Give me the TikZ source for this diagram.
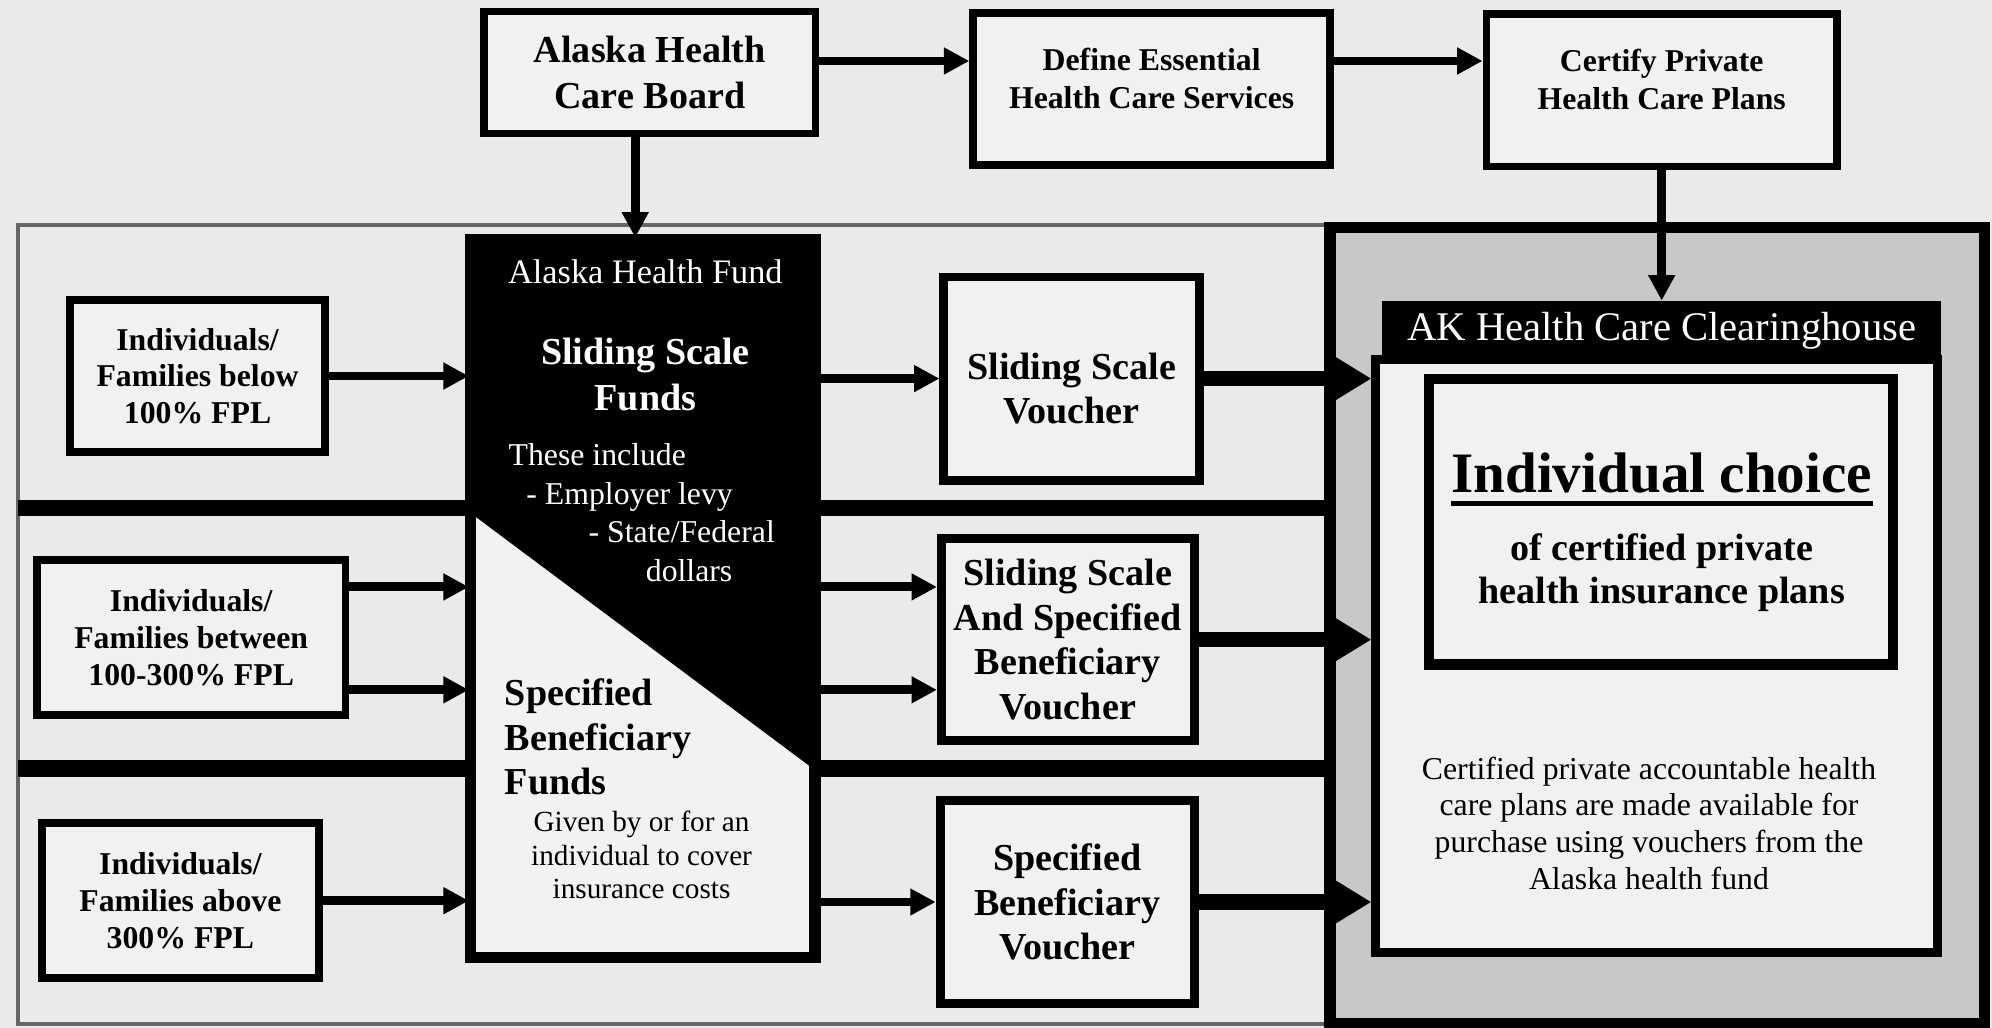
\documentclass[tikz,border=0pt]{standalone}
\usepackage{fontspec}
\setmainfont{Liberation Serif}
\usetikzlibrary{arrows.meta}
\definecolor{pagebg}{HTML}{EAEAEA}
\definecolor{zonebg}{HTML}{C8C8C8}
\definecolor{boxbg}{HTML}{F1F1F1}
\newcommand{\fsz}[2]{\fontsize{#1}{#2}\selectfont}
\tikzset{
	box/.style={draw,line width=3pt,fill=boxbg,align=center,inner sep=0pt},
	arr/.style={->,line width=3.5pt},
	bigarr/.style={-{Triangle[length=15pt,width=17pt]},line width=6pt},
	txt/.style={align=center,inner sep=0pt}}

\begin{document}
\begin{tikzpicture}[x=0.5pt,y=-0.5pt,>={Triangle[length=10pt,width=10pt]},line join=miter]
		\def\lfont{\fsz{12.5}{14.5}\bfseries} \def\vfont{\fsz{15}{17.5}\bfseries} % Phông chữ
		\fill[pagebg] (0,0) rectangle (1568,809);
		\useasboundingbox (0,0) rectangle (1568,809);
		% left zone and bands
		\draw[black!60,line width=1.5pt] (14,177) rectangle (1047,806);
		\draw[line width=6.5pt] (14,400)--(1047,400) (14,605)--(1047,605);
		% clearinghouse zone
		\draw[line width=4.5pt,fill=zonebg] (1047,179) rectangle (1562,806);
		\node[box,minimum width=221pt,minimum height=233.5pt,line width=3.5pt] (house) at (1304,516.5) {};
		\node[fill=black,text=white,minimum width=220pt,minimum height=23pt,font=\fsz{16}{18}] (header) at (1308,260) {AK Health Care Clearinghouse};
		\node[box,minimum width=182.5pt,minimum height=112.5pt,line width=4pt] (choice) at (1307.5,410.5) {};
		\node[txt,font=\fsz{22.5}{27}\bfseries] (choice-a) at (1308,372) {Individual choice};
		\draw[line width=1.6pt] ([yshift=-4.5pt]choice-a.base west)--([yshift=-4.5pt]choice-a.base east);
		\node[txt,font=\fsz{15}{17}\bfseries] (choice-b) at (1308,451) {of certified private\\health insurance plans};
		\node[txt,font=\fsz{12.5}{14.5}] (house-t) at (1298,648) {Certified private accountable health\\care plans are made available for\\purchase using vouchers from the\\Alaska health fund};
		% top row
		\node[box,minimum width=130.5pt,minimum height=48pt,font=\fsz{15}{18}\bfseries] (board) at (511.5,57) {Alaska Health\\Care Board};
		\node[box,minimum width=140.5pt,minimum height=60pt] (define) at (906.5,70) {};
		\node[txt,font=\fsz{12.5}{15}\bfseries] (define-t) at (906.5,62) {Define Essential\\Health Care Services};
		\node[box,minimum width=138pt,minimum height=60pt] (certify) at (1308,71) {};
		\node[txt,font=\fsz{12.5}{15}\bfseries] (certify-t) at (1308,62.5) {Certify Private\\Health Care Plans};
		% individuals
		\node[box,minimum width=100.5pt,minimum height=60pt,font=\lfont] (below) at (155.5,296) {Individuals/\\Families below\\100\% FPL};
		\node[box,minimum width=121.5pt,minimum height=61pt,font=\lfont] (between) at (150.5,502) {Individuals/\\Families between\\100-300\% FPL};
		\node[box,minimum width=109pt,minimum height=61pt,font=\lfont] (above) at (142,709) {Individuals/\\Families above\\300\% FPL};
		% fund
		\node[draw,line width=3pt,fill=white!95!black,minimum width=134pt,minimum height=281pt] (fund) at (506,471) {};
		\coordinate (cut1) at (372,405); \coordinate (cut2) at (640,605);
		\fill (fund.north west)--(fund.north east)--(cut2)--(cut1)--cycle;
		\draw[line width=3pt] (fund.north west) rectangle (fund.south east);
		\node[txt,text=white,font=\fsz{13.5}{16}] (fund-a) at (508,214) {Alaska Health Fund};
		\node[txt,text=white,font=\fsz{15}{18}\bfseries] (fund-b) at (508,295) {Sliding Scale\\Funds};
		\node[txt,text=white,align=left,anchor=west,font=\fsz{12.5}{15.2}] (fund-c) at (400,403.5) {These include\\\hspace*{7pt}- Employer levy\\\hspace*{31.5pt}- State/Federal\\\hspace*{54pt}dollars};
		\node[txt,align=left,anchor=west,font=\vfont] (fund-d) at (397,580) {Specified\\Beneficiary\\Funds};
		\node[txt,font=\fsz{11.5}{13.3}] (fund-e) at (505,673) {Given by or for an\\individual to cover\\insurance costs};
		% vouchers
		\node[box,minimum width=100.5pt,minimum height=80pt,line width=3.5pt] (vslide) at (843.5,298) {};
		\node[txt,font=\vfont] (vslide-t) at (843.5,306) {Sliding Scale\\Voucher};
		\node[box,minimum width=99.5pt,minimum height=79.5pt,line width=3.5pt,font=\vfont] (vboth) at (840.5,503.5) {Sliding Scale\\And Specified\\Beneficiary\\Voucher};
		\node[box,minimum width=100pt,minimum height=80pt,line width=3.5pt,font=\vfont] (vspec) at (840,710) {Specified\\Beneficiary\\Voucher};
		% arrows
		\draw[arr] ([yshift=4.5pt]board.east)--([yshift=4.5pt]board.east -| define.west);
		\draw[arr] ([yshift=11pt]define.east)--([yshift=11pt]define.east -| certify.west);
		\draw[arr] ([xshift=-5.75pt]board.south)--([xshift=-5.75pt]board.south |- fund.north);
		\draw[arr] (certify.south)--(header.north);
		\draw[arr] (below.east)--(below.east -| fund.west);
		\draw[arr] ([yshift=20pt]between.east)--([yshift=20pt]between.east -| fund.west);
		\draw[arr] ([yshift=-20.5pt]between.east)--([yshift=-20.5pt]between.east -| fund.west);
		\draw[arr] (above.east)--(above.east -| fund.west);
		\draw[arr] (fund.east |- vslide.west)--(vslide.west);
		\draw[arr] ([yshift=20pt]between.east -| fund.east)--([yshift=20pt]between.east -| vboth.west);
		\draw[arr] ([yshift=-20.5pt]between.east -| fund.east)--([yshift=-20.5pt]between.east -| vboth.west);
		\draw[arr] (fund.east |- vspec.west)--(vspec.west);
		\draw[bigarr] (vslide.east)--(vslide.east -| house.west);
		\draw[bigarr] (vboth.east)--(vboth.east -| house.west);
		\draw[bigarr] (vspec.east)--(vspec.east -| house.west);
\end{tikzpicture}
\end{document}
